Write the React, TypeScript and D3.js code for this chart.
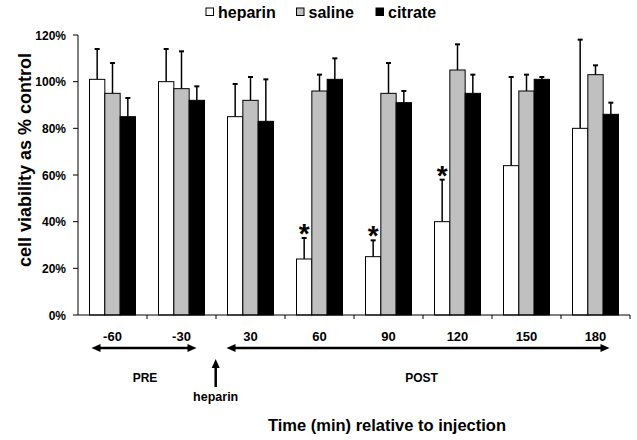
import React from "react";
import * as d3 from "d3";

const categories = ["-60", "-30", "30", "60", "90", "120", "150", "180"];
const seriesNames = ["heparin", "saline", "citrate"];
const heparin = [101, 100, 85, 24, 25, 40, 64, 80];
const saline = [95, 97, 92, 96, 95, 105, 96, 103];
const citrate = [85, 92, 83, 101, 91, 95, 101, 86];
const heparinSD = [13, 14, 14, 9, 7, 18, 38, 38];
const salineSD = [13, 16, 10, 7, 13, 11, 7, 4];
const citrateSD = [8, 6, 18, 9, 5, 8, 1, 5];
const significant = [false, false, false, true, true, true, false, false];
const yTicks = [0, 20, 40, 60, 80, 100, 120];

const colors = ["#ffffff", "#c0c0c0", "#000000"];
const FONT = "'Liberation Sans', Arial, sans-serif";

export default function App() {
  const W = 637, H = 440;
  const left = 78, right = 630, top = 35, bottom = 315;
  const x = d3.scaleBand<string>().domain(categories).range([left, right]).paddingInner(1 / 3).paddingOuter(1 / 6);
  const xs = d3.scaleBand<string>().domain(seriesNames).range([0, x.bandwidth()]);
  const y = d3.scaleLinear().domain([0, 120]).range([bottom, top]);
  const series = [heparin, saline, citrate];
  const sds = [heparinSD, salineSD, citrateSD];
  const step = x.step();
  const xc = (c: string) => (x(c) as number) + x.bandwidth() / 2;

  const arrowY = 348;
  const preL = xc("-60") - 21, preR = xc("-30") + 15;
  const postL = xc("30") - 24, postR = xc("180") + 14;
  const hepX = left + 2 * step - 0.3;
  const head = (tx: number, ty: number, dir: "l" | "r" | "u") => {
    const L = 9, w = 4;
    if (dir === "l") return `M${tx},${ty} L${tx + L},${ty - w} L${tx + L},${ty + w} Z`;
    if (dir === "r") return `M${tx},${ty} L${tx - L},${ty - w} L${tx - L},${ty + w} Z`;
    return `M${tx},${ty} L${tx - w},${ty + L} L${tx + w},${ty + L} Z`;
  };

  return (
    <svg width={W} height={H} style={{ display: "block", position: "absolute", left: 0, top: 0, background: "#fff" }} fontFamily={FONT} fontWeight="bold">
      <rect x={0} y={0} width={W} height={H} fill="#fff" />
      {/* legend */}
      {seriesNames.map((s, i) => {
        const bx = [206, 296.5, 376][i];
        return (
          <g key={s}>
            <rect x={bx} y={8} width={7.5} height={7.5} fill={colors[i]} stroke="#000" strokeWidth={1} />
            <text x={bx + 12} y={18} fontSize={16}>{s}</text>
          </g>
        );
      })}
      {/* bars */}
      {categories.map((c, ci) => (
        <g key={c}>
          {series.map((arr, si) => {
            const bx = (x(c) as number) + (xs(seriesNames[si]) as number);
            const bw = xs.bandwidth();
            const v = arr[ci];
            const et = v + sds[si][ci];
            const cx = bx + bw / 2;
            return (
              <g key={si}>
                <line x1={cx} x2={cx} y1={y(v)} y2={y(et)} stroke="#000" strokeWidth={1.5} />
                <line x1={cx - 2.5} x2={cx + 2.5} y1={y(et)} y2={y(et)} stroke="#000" strokeWidth={2} />
                <rect x={bx} y={y(v)} width={bw} height={bottom - y(v)} fill={colors[si]} stroke="#000" strokeWidth={1} />
                {si === 0 && significant[ci] && (
                  <text x={cx} y={y(et) + 5} textAnchor="middle" fontSize={28}>*</text>
                )}
              </g>
            );
          })}
        </g>
      ))}
      {/* axes */}
      <line x1={left} x2={left} y1={top} y2={bottom} stroke="#000" strokeWidth={1} />
      <line x1={left} x2={right} y1={bottom} y2={bottom} stroke="#000" strokeWidth={1} />
      {yTicks.map((t) => (
        <g key={t}>
          <line x1={left - 5} x2={left} y1={y(t)} y2={y(t)} stroke="#000" strokeWidth={1} />
          <text x={66} y={y(t) + 4.5} textAnchor="end" fontSize={12}>{t}%</text>
        </g>
      ))}
      {d3.range(1, categories.length + 1).map((i) => (
        <line key={i} x1={left + i * step} x2={left + i * step} y1={bottom} y2={bottom + 4} stroke="#000" strokeWidth={1} />
      ))}
      {categories.map((c) => (
        <text key={c} x={xc(c)} y={341} textAnchor="middle" fontSize={13}>{c}</text>
      ))}
      {/* PRE / POST arrows */}
      <line x1={preL + 8} x2={preR - 8} y1={arrowY} y2={arrowY} stroke="#000" strokeWidth={2.5} />
      <path d={head(preL, arrowY, "l")} fill="#000" />
      <path d={head(preR, arrowY, "r")} fill="#000" />
      <line x1={postL + 8} x2={postR - 8} y1={arrowY} y2={arrowY} stroke="#000" strokeWidth={2.5} />
      <path d={head(postL, arrowY, "l")} fill="#000" />
      <path d={head(postR, arrowY, "r")} fill="#000" />
      <text x={145} y={381.5} textAnchor="middle" fontSize={12}>PRE</text>
      <text x={421.5} y={381.5} textAnchor="middle" fontSize={12}>POST</text>
      <line x1={hepX} x2={hepX} y1={367} y2={387} stroke="#000" strokeWidth={2.5} />
      <path d={head(hepX, 359, "u")} fill="#000" />
      <text x={hepX} y={401} textAnchor="middle" fontSize={12.5}>heparin</text>
      <text x={387} y={430.5} textAnchor="middle" fontSize={16.5}>Time (min) relative to injection</text>
      <text transform={`translate(31,160) rotate(-90)`} textAnchor="middle" fontSize={18}>cell viability as % control</text>
    </svg>
  );
}
